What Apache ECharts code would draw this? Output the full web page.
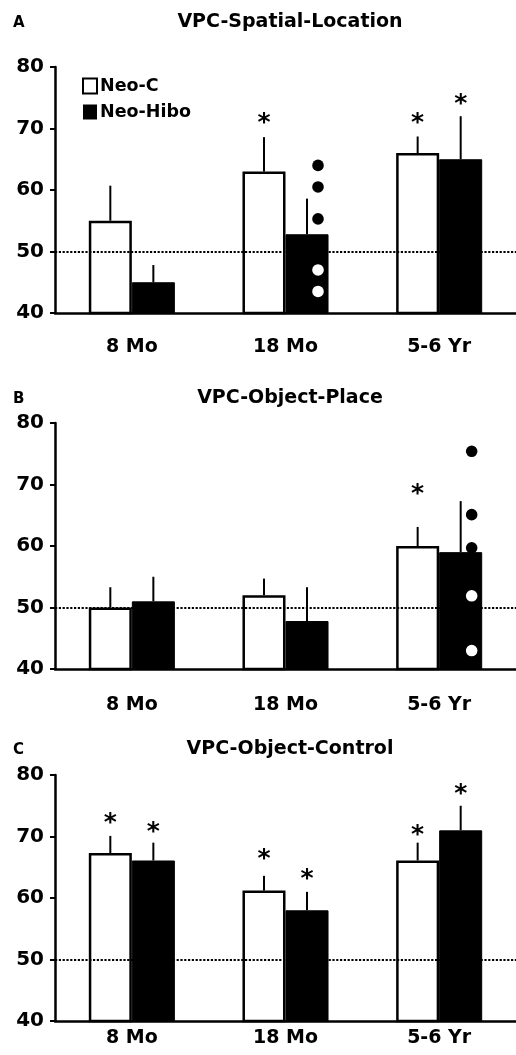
<!DOCTYPE html>
<html><head><meta charset="utf-8">
<script src="https://cdn.jsdelivr.net/npm/echarts@6/dist/echarts.min.js"></script>
<style>html,body{margin:0;padding:0;background:#fff}#c{width:516px;height:1055px}</style>
</head><body><div id="c"></div>
<script>
// ---------- data ----------
const categories = ['8 Mo', '18 Mo', '5-6 Yr'];
const seriesNames = ['Neo-C', 'Neo-Hibo'];
const panelTitles = ['VPC-Spatial-Location', 'VPC-Object-Place', 'VPC-Object-Control'];
const panelLetters = ['A', 'B', 'C'];
const yTickLabels = [40, 50, 60, 70, 80];
const chanceLevel = 50;

// Panel A
const spatialNeoC = [55, 63, 66];
const spatialNeoCErrTop = [60.7, 68.6, 68.7];
const spatialHibo = [45, 52.8, 65];
const spatialHiboErrTop = [47.8, 58.6, 72];
const spatialNeoCStars = [null, 71.6, 71.6];
const spatialHiboStars = [null, null, 74.7];
const spatialDotsCategory = '18 Mo';
const spatialHiboDots = [64, 60.5, 55.3, 47, 43.5];

// Panel B
const placeNeoC = [50, 52, 60];
const placeNeoCErrTop = [53.3, 54.7, 63.1];
const placeHibo = [51, 47.8, 59];
const placeHiboErrTop = [55, 53.3, 67.3];
const placeNeoCStars = [null, null, 69.2];
const placeHiboStars = [null, null, null];
const placeDotsCategory = '5-6 Yr';
const placeHiboDots = [75.4, 65.1, 59.7, 51.9, 43];

// Panel C
const controlNeoC = [67.3, 61.2, 66.1];
const controlNeoCErrTop = [70.1, 63.6, 69];
const controlHibo = [66.1, 58, 71];
const controlHiboErrTop = [69, 61, 75];
const controlNeoCStars = [73, 67.1, 71];
const controlHiboStars = [71.5, 63.8, 77.6];
const controlDotsCategory = null;
const controlHiboDots = [];

// ---------- build ----------
const panels = [
  {c: spatialNeoC, cE: spatialNeoCErrTop, h: spatialHibo, hE: spatialHiboErrTop, cS: spatialNeoCStars, hS: spatialHiboStars, dCat: spatialDotsCategory, dots: spatialHiboDots},
  {c: placeNeoC, cE: placeNeoCErrTop, h: placeHibo, hE: placeHiboErrTop, cS: placeNeoCStars, hS: placeHiboStars, dCat: placeDotsCategory, dots: placeHiboDots},
  {c: controlNeoC, cE: controlNeoCErrTop, h: controlHibo, hE: controlHiboErrTop, cS: controlNeoCStars, hS: controlHiboStars, dCat: controlDotsCategory, dots: controlHiboDots}
];

const FONT = 'DejaVu Sans';
const gridTops = [67, 423, 775];
const gridH = 246;
const labelMargins = [25, 27, 8];
const titleY = [22, 398, 749];
const BAR_FRAC = 0.28; // bar width as fraction of category band

const grids = [], xAxes = [], yAxes = [], series = [], graphics = [];

function errRender(side) {
  return function (params, api) {
    const p0 = api.coord([api.value(0), api.value(1)]);
    const p1 = api.coord([api.value(0), api.value(2)]);
    const bw = api.size([1, 0])[0];
    const x = p0[0] + side * bw * BAR_FRAC / 2;
    return {type: 'line', shape: {x1: x, y1: p0[1], x2: x, y2: p1[1]}, style: {stroke: '#000', lineWidth: 2}};
  };
}
function starRender(side) {
  return function (params, api) {
    const p = api.coord([api.value(0), api.value(1)]);
    const bw = api.size([1, 0])[0];
    const x = p[0] + side * bw * BAR_FRAC / 2;
    return {type: 'text', x: x, y: p[1] + 5, style: {text: '*', fontSize: 25, fontWeight: 'bold', fontFamily: FONT, fill: '#000', align: 'center', verticalAlign: 'middle'}};
  };
}
function dotRender(params, api) {
  const p = api.coord([api.value(0), api.value(1)]);
  const barTop = api.coord([api.value(0), api.value(2)]);
  const bw = api.size([1, 0])[0];
  const x = p[0] + bw * BAR_FRAC / 2 + 11;
  const inside = p[1] > barTop[1] + 2;
  return {type: 'circle', shape: {cx: x, cy: p[1], r: 5.8}, style: {fill: inside ? '#fff' : '#000'}};
}

panels.forEach((pn, i) => {
  grids.push({left: 55, top: gridTops[i], width: 470, height: gridH, containLabel: false});
  xAxes.push({
    type: 'category', gridIndex: i, data: categories,
    axisLine: {lineStyle: {color: '#000', width: 2.5}},
    axisTick: {show: false},
    axisLabel: {color: '#000', fontFamily: FONT, fontWeight: 'bold', fontSize: 19, margin: labelMargins[i]}
  });
  yAxes.push({
    type: 'value', gridIndex: i, min: yTickLabels[0], max: yTickLabels[yTickLabels.length - 1], interval: 10,
    axisLine: {show: true, lineStyle: {color: '#000', width: 2.5}},
    axisTick: {show: true, length: 5, lineStyle: {color: '#000', width: 2}},
    splitLine: {show: false},
    axisLabel: {color: '#000', fontFamily: FONT, fontWeight: 'bold', fontSize: 20, margin: 11}
  });
  series.push({
    name: seriesNames[0], type: 'bar', xAxisIndex: i, yAxisIndex: i, data: pn.c,
    barWidth: (BAR_FRAC * 100) + '%', barGap: '0%',
    itemStyle: {color: '#fff', borderColor: '#000', borderWidth: 2.5},
    emphasis: {disabled: true}, animation: false
  });
  series.push({
    name: seriesNames[1], type: 'bar', xAxisIndex: i, yAxisIndex: i, data: pn.h,
    barWidth: (BAR_FRAC * 100) + '%', barGap: '0%',
    itemStyle: {color: '#000', borderColor: '#000', borderWidth: 1},
    emphasis: {disabled: true}, animation: false,
    markLine: {
      silent: true, symbol: 'none', z: 10, label: {show: false},
      lineStyle: {type: [2.2, 1.6], color: '#000', width: 2},
      data: [{yAxis: chanceLevel}]
    }
  });
  series.push({type: 'custom', xAxisIndex: i, yAxisIndex: i, renderItem: errRender(-1), z: 3,
    data: pn.c.map((v, k) => [k, v, pn.cE[k]]), animation: false, silent: true});
  series.push({type: 'custom', xAxisIndex: i, yAxisIndex: i, renderItem: errRender(1), z: 3,
    data: pn.h.map((v, k) => [k, v, pn.hE[k]]), animation: false, silent: true});
  series.push({type: 'custom', xAxisIndex: i, yAxisIndex: i, renderItem: starRender(-1), z: 4,
    data: pn.cS.map((v, k) => [k, v]).filter(d => d[1] != null), animation: false, silent: true});
  series.push({type: 'custom', xAxisIndex: i, yAxisIndex: i, renderItem: starRender(1), z: 4,
    data: pn.hS.map((v, k) => [k, v]).filter(d => d[1] != null), animation: false, silent: true});
  if (pn.dCat) {
    const ci = categories.indexOf(pn.dCat);
    series.push({type: 'custom', xAxisIndex: i, yAxisIndex: i, renderItem: dotRender, z: 12,
      data: pn.dots.map(v => [ci, v, pn.h[ci]]), animation: false, silent: true});
  }
  graphics.push({type: 'text', x: 290, y: titleY[i], style: {text: panelTitles[i], font: 'bold 19px ' + FONT, fill: '#000', align: 'center', verticalAlign: 'middle'}});
  graphics.push({type: 'text', x: 13, y: titleY[i] + 1, style: {text: panelLetters[i], font: 'bold 15px ' + FONT, fill: '#000', align: 'left', verticalAlign: 'middle'}});
});

const chart = echarts.init(document.getElementById('c'), null, {renderer: 'canvas'});
chart.setOption({
  backgroundColor: '#fff',
  animation: false,
  grid: grids, xAxis: xAxes, yAxis: yAxes, series: series,
  legend: {
    orient: 'vertical', left: 82, top: 77, itemWidth: 14, itemHeight: 15, itemGap: 8, padding: 0,
    selectedMode: false,
    textStyle: {fontFamily: FONT, fontWeight: 'bold', fontSize: 17.5, color: '#000', padding: [0, 0, 0, -2]},
    data: [
      {name: seriesNames[0], icon: 'rect', itemStyle: {color: '#fff', borderColor: '#000', borderWidth: 2}},
      {name: seriesNames[1], icon: 'rect', itemStyle: {color: '#000', borderColor: '#000', borderWidth: 0}}
    ]
  },
  graphic: graphics
});
</script></body></html>
